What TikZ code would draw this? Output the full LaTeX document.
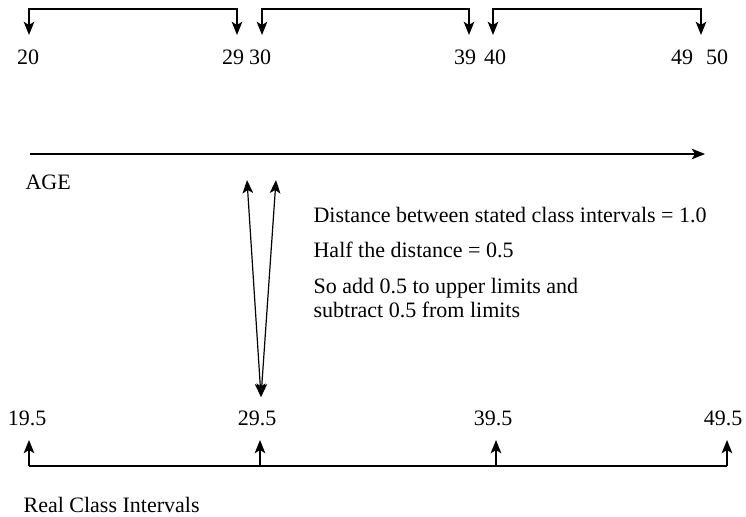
\documentclass[tikz,border=0pt]{standalone}
\usepackage{fontspec}
\setmainfont{Liberation Serif}
\usetikzlibrary{arrows.meta,positioning}

\begin{document}
\begin{tikzpicture}[x=0.75pt,y=-0.75pt,line width=0.9pt,
  tip/.style={-{Stealth[length=10pt,width=8pt,inset=2.5pt]}},
  both/.style={{Stealth[length=10pt,width=8pt,inset=2.5pt]}-{Stealth[length=10pt,width=8pt,inset=2.5pt]}},
  lbl/.style={font=\fontsize{16.5}{17.5}\selectfont,inner sep=0pt}]
\useasboundingbox (0,0) rectangle (746,517);
% stated class intervals
\foreach \a/\b/\n in {29/237/1,262/469/2,493/701/3}{
  \coordinate (s\n) at (\a,35);
  \coordinate (e\n) at (\b,35);
  \draw[both] (s\n) -- ++(0,-26) -| (e\n);
}
\node[lbl] (n20) at (28,57) {20};
\node[lbl] (n29) at (233,57) {29};
\node[lbl] (n30) at (260,57) {30};
\node[lbl] (n39) at (465,57) {39};
\node[lbl] (n40) at (495,57) {40};
\node[lbl] (n49) at (682,57) {49};
\node[lbl] (n50) at (717,57) {50};
% age axis
\coordinate (a0) at (30,154);
\coordinate (a1) at (705,154);
\draw[tip] (a0) -- (a1);
\node[lbl,anchor=west] (age) at (25,182) {AGE};
% half distance
\coordinate (v) at (261,397);
\coordinate (p1) at (247,180);
\coordinate (p2) at (276,180);
\draw[both] (v) -- (p1);
\draw[both] (v) -- (p2);
\node[lbl,anchor=west] (d1) at (313,215) {Distance between stated class intervals = 1.0};
\node[lbl,anchor=west] (d2) at (313,250) {Half the distance = 0.5};
\node[lbl,anchor=west,align=left] (d3) at (313,298) {So add 0.5 to upper limits and\\subtract 0.5 from limits};
% real class intervals
\draw (29,466) coordinate (b1) -- (727,466) coordinate (b4);
\foreach \x/\n in {29/1,260/2,496/3,727/4}{
  \coordinate (q\n) at (\x,466);
  \draw[tip] (q\n) -- ++(0,-26);
}
\node[lbl] (r1) at (27,418) {19.5};
\node[lbl] (r2) at (257,418) {29.5};
\node[lbl] (r3) at (493,418) {39.5};
\node[lbl] (r4) at (723,418) {49.5};
\node[lbl,anchor=west] (real) at (23,505) {Real Class Intervals};
\end{tikzpicture}
\end{document}
